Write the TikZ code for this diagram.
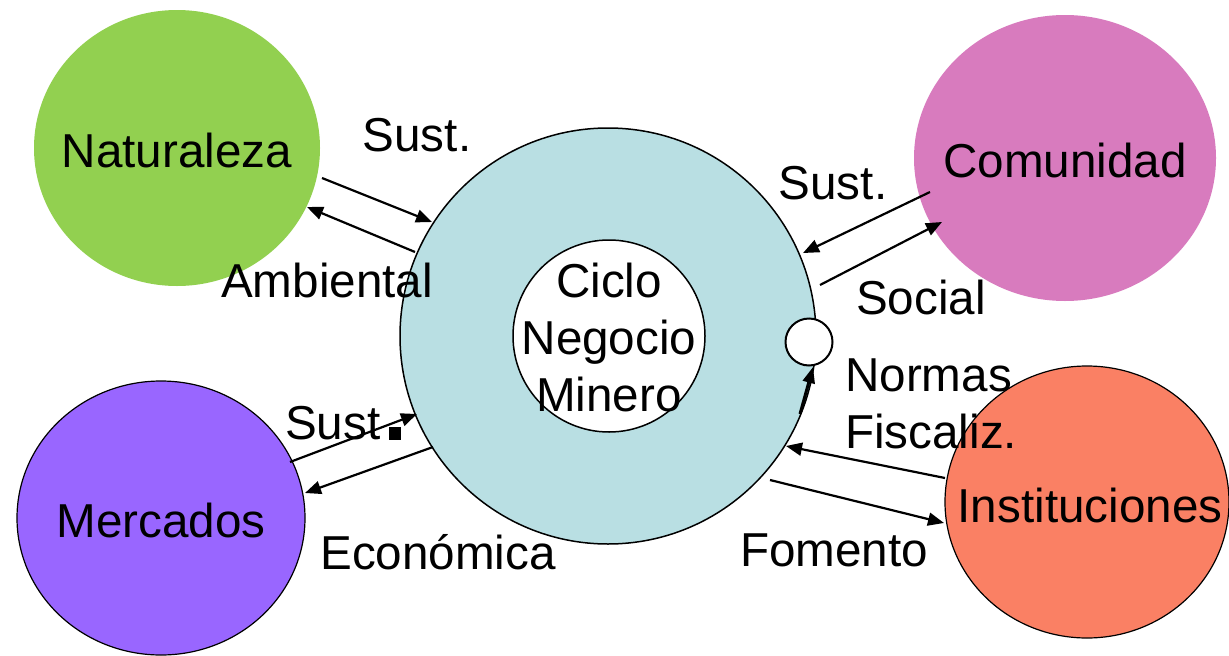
\documentclass[tikz,border=0pt]{standalone}
\usepackage{fontspec}
\setmainfont{Liberation Sans}
\usetikzlibrary{arrows.meta,shapes.geometric}
\definecolor{natgreen}{HTML}{92D050}
\definecolor{compink}{HTML}{D87BBE}
\definecolor{merpurple}{HTML}{9966FF}
\definecolor{insorange}{HTML}{FA8064}
\definecolor{cyclecyan}{HTML}{B9DFE3}
\begin{document}
\begin{tikzpicture}[x=1pt,y=-1pt,
  bigfont/.style={font=\fontsize{47.6}{57}\selectfont},
  blob/.style={ellipse,inner sep=0pt},
  lbl/.style={inner sep=0pt,bigfont,text=black},
  flow/.style={line width=2.2pt,-{Triangle[length=16pt,width=13pt]}},
  thickflow/.style={line width=3pt,-{Triangle[length=16pt,width=12pt]}}
]
\useasboundingbox (0,0) rectangle (1229,656);
\fill[white] (0,0) rectangle (1229,656);

% outer entities
\node[blob,fill=natgreen,minimum width=286pt,minimum height=276pt] (nat) at (177,148) {};
\node[blob,fill=compink,minimum width=302pt,minimum height=286pt] (com) at (1065,158) {};
\node[blob,fill=merpurple,draw=black,line width=1.2pt,minimum width=288pt,minimum height=274pt] (mer) at (161,518) {};
\node[blob,fill=insorange,draw=black,line width=1.2pt,minimum width=284pt,minimum height=272pt] (ins) at (1087,502) {};
\node[lbl] (natt) at (177,150) {Naturaleza};
\node[lbl] (comt) at (1065,160) {Comunidad};
\node[lbl] (mert) at (161,520) {Mercados};
\node[lbl] (inst) at (1090,505) {Instituciones};

% central cycle
\node[circle,fill=cyclecyan,draw=black,line width=1.5pt,minimum size=416pt,inner sep=0pt] (cyc) at (608,336) {};
\node[circle,fill=white,draw=black,line width=1.5pt,minimum size=192pt,inner sep=0pt] (inner) at (609,336) {};
\node[lbl,align=center] (ciclo) at (609,337) {Ciclo\\Negocio\\Minero};
\node[circle,fill=white,draw=black,line width=2pt,minimum size=47pt,inner sep=0pt] (port) at (809,342) {};

% labels
\node[lbl] (l1) at (417,135) {Sust.};
\node[lbl] (l2) at (327,280) {Ambiental};
\node[lbl] (l3) at (833,183) {Sust.};
\node[lbl] (l4) at (921,297) {Social};
\node[lbl,align=left,anchor=west] (l5) at (845,404) {Normas\\Fiscaliz.};
\node[lbl,anchor=west] (l6) at (285,423) {Sust};
\node[fill=black,inner sep=0pt,minimum width=12pt,minimum height=13pt] (dot) at (395,433) {};
\node[lbl] (l7) at (438,552) {Económica};
\node[lbl] (l8) at (834,550) {Fomento};

% arrow end points
\coordinate (a1s) at (322,178); \coordinate (a1e) at (432,222);
\coordinate (a2s) at (415,252); \coordinate (a2e) at (307,207);
\coordinate (a3s) at (930,192); \coordinate (a3e) at (803,253);
\coordinate (a4s) at (820,285); \coordinate (a4e) at (942,222);
\coordinate (a5s) at (290,462); \coordinate (a5e) at (417,414);
\coordinate (a6s) at (433,447); \coordinate (a6e) at (305,493);
\coordinate (a7s) at (945,478); \coordinate (a7e) at (786,446);
\coordinate (a8s) at (770,480); \coordinate (a8e) at (944,523);
\coordinate (a9s) at (800,414); \coordinate (a9e) at (813,367);

\draw[flow] (a1s) -- (a1e);
\draw[flow] (a2s) -- (a2e);
\draw[flow] (a3s) -- (a3e);
\draw[flow] (a4s) -- (a4e);
\draw[flow] (a5s) -- (a5e);
\draw[flow] (a6s) -- (a6e);
\draw[flow] (a7s) -- (a7e);
\draw[flow] (a8s) -- (a8e);
\draw[thickflow] (a9s) -- (a9e);
\end{tikzpicture}
\end{document}
